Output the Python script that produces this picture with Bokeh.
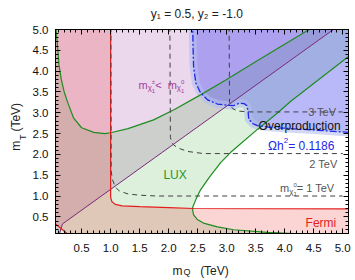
import math
from bokeh.plotting import figure
from bokeh.models import (Range1d, LinearAxis, SingleIntervalTicker, FixedTicker, Label,
                          CustomJSTickFormatter, PrintfTickFormatter)
from bokeh.embed import file_html
from bokeh.resources import INLINE

# ---------------- data (TeV) ----------------
X_RANGE = (0.05, 5.1)
Y_RANGE = (0.1, 5.0)

# LUX upper boundary (left -> right)
LUX_UP_X = [0.045, 0.06, 0.085, 0.11, 0.15, 0.2, 0.26, 0.36, 0.5, 0.71, 0.9, 1.0, 1.3, 1.74, 2.1, 2.55, 3.0, 3.47, 4.4, 5.02]
LUX_UP_Y = [5.5, 5.0, 4.6, 4.15, 3.8, 3.5, 3.25, 2.88, 2.64, 2.53, 2.5, 2.52, 2.62, 2.83, 3.08, 3.43, 3.8, 4.2, 4.98, 5.5]
# LUX right boundary (top -> bottom)
LUX_RT_X = [6.15, 5.1, 4.1, 3.87, 3.53, 3.07, 2.9, 2.7, 2.55, 2.47, 2.42, 2.41, 2.43, 2.5, 2.6, 2.84, 3.12, 3.7, 4.15, 4.6]
LUX_RT_Y = [5.5, 4.35, 3.27, 2.99, 2.6, 2.05, 1.81, 1.45, 1.15, 0.92, 0.75, 0.69, 0.55, 0.43, 0.35, 0.26, 0.19, 0.125, 0.1, 0.07]

# chargino lighter than neutralino: boundary line
CHI_X = [0.12, 0.17, 5.2]
CHI_Y = [0.1, 0.33, 5.36]

# Fermi boundary
FERMI_X = [1.0, 1.0, 1.02, 1.08, 1.2, 1.5, 2.0, 2.43, 5.2]
FERMI_Y = [5.5, 0.97, 0.87, 0.8, 0.765, 0.745, 0.72, 0.7, 0.69]
FERMI_CORNER_X = [0.0, 0.05, 0.25, 0.35]
FERMI_CORNER_Y = [0.38, 0.33, 0.1, 0.0]

# relic abundance Omega h^2 = 0.1186
OMEGA_X = [2.41, 2.42, 2.43, 2.47, 2.55, 2.67, 2.84, 3.0, 3.12, 3.22, 3.3, 3.35, 3.37, 3.38, 3.45, 3.53, 3.75, 3.98, 4.57, 5.2]
OMEGA_Y = [5.5, 4.6, 4.1, 3.71, 3.48, 3.31, 3.21, 3.18, 3.17, 3.23, 3.22, 3.17, 3.02, 2.85, 2.74, 2.69, 2.65, 2.63, 2.58, 2.52]

# neutralino mass contours
M1_X = [1.005, 1.01, 1.03, 1.08, 1.15, 1.3, 1.5, 1.8, 5.0]
M1_Y = [5.5, 1.6, 1.4, 1.22, 1.12, 1.05, 1.02, 1.0, 1.0]
M2_X = [2.02, 2.03, 2.07, 2.15, 2.33, 2.6, 5.0]
M2_Y = [5.5, 2.4, 2.25, 2.16, 2.07, 2.02, 2.02]
M3_X = [3.04, 3.05, 3.1, 3.2, 3.4, 5.0]
M3_Y = [5.5, 3.25, 3.1, 3.04, 3.02, 3.02]

TITLE = "y₁ = 0.5,  y₂ = -1.0"

# ---------------- figure ----------------
p = figure(width=355, height=280, output_backend="svg", toolbar_location=None,
           x_range=Range1d(*X_RANGE), y_range=Range1d(*Y_RANGE))
p.min_border_left = 55
p.min_border_right = 7
p.min_border_top = 29
p.min_border_bottom = 44
p.background_fill_color = "white"
p.border_fill_color = "white"
p.outline_line_color = "black"
p.xgrid.visible = False
p.ygrid.visible = False

FONT = "Liberation Sans"
TXT = "#222222"


def style_axis(ax, labels):
    ax.ticker = SingleIntervalTicker(interval=0.5, num_minor_ticks=5)
    ax.major_tick_in = 5
    ax.major_tick_out = 0
    ax.minor_tick_in = 3
    ax.minor_tick_out = 0
    ax.axis_line_color = "black"
    ax.major_tick_line_color = "black"
    ax.minor_tick_line_color = "black"
    if labels:
        ax.formatter = PrintfTickFormatter(format="%.1f")
        ax.major_label_text_font = FONT
        ax.major_label_text_font_size = "11.5px"
        ax.major_label_text_color = "#111111"
    else:
        ax.formatter = CustomJSTickFormatter(code="return ''")
        ax.major_label_text_font_size = "0px"
        ax.major_label_standoff = 0


style_axis(p.xaxis[0], True)
style_axis(p.yaxis[0], True)
p.xaxis[0].major_label_standoff = 10
p.yaxis[0].major_label_standoff = 7
top_ax = LinearAxis()
right_ax = LinearAxis()
style_axis(top_ax, False)
style_axis(right_ax, False)
p.add_layout(top_ax, "above")
p.add_layout(right_ax, "right")


def text_axis(ticks, labels, size, standoff, side, orientation="horizontal"):
    ax = LinearAxis(ticker=FixedTicker(ticks=ticks, minor_ticks=[]),
                    formatter=CustomJSTickFormatter(args=dict(labels=labels),
                                                    code="return labels[index];"))
    ax.axis_line_color = None
    ax.major_tick_line_color = None
    ax.minor_tick_line_color = None
    ax.major_tick_in = 0
    ax.major_tick_out = 0
    ax.major_label_standoff = standoff
    ax.major_label_text_font = FONT
    ax.major_label_text_font_size = size
    ax.major_label_text_color = TXT
    ax.major_label_orientation = orientation
    p.add_layout(ax, side)
    return ax


# title (top), axis titles built from pieces so that subscripts stay real text
text_axis([2.515], [TITLE], "12px", 9, "above")
text_axis([2.317], ["Q"], "9px", 12, "below")
text_axis([2.153, 2.79], ["m", "(TeV)"], "12px", -16, "below")
text_axis([2.413], ["T"], "9px", 1, "left", "vertical")
text_axis([2.207, 2.893], ["m", "(TeV)"], "12px", -8, "left", "vertical")

# ---------------- regions ----------------
chi_px = CHI_X + [5.2, 0.0, 0.0]
chi_py = CHI_Y + [5.5, 5.5, 0.1]
p.patch(chi_px, chi_py, fill_color="#962896", fill_alpha=0.18, line_color=None)

lux_px = [0.0] + LUX_UP_X + LUX_RT_X + [4.6, 0.0]
lux_py = [5.5] + LUX_UP_Y + LUX_RT_Y + [0.0, 0.0]
p.patch(lux_px, lux_py, fill_color="#28a028", fill_alpha=0.16, line_color=None)

fermi_px = FERMI_X + [5.2] + FERMI_CORNER_X[::-1] + [0.0]
fermi_py = FERMI_Y + [0.0] + FERMI_CORNER_Y[::-1] + [5.5]
p.patch(fermi_px, fermi_py, fill_color="#eb3c3c", fill_alpha=0.22, line_color=None)

omega_px = OMEGA_X + [5.2]
omega_py = OMEGA_Y + [5.5]
p.patch(omega_px, omega_py, fill_color="#3c3cf0", fill_alpha=0.36, line_color=None)

# uncertainty halo around relic line
p.line(OMEGA_X, OMEGA_Y, line_color="#b4bef0", line_alpha=0.6, line_width=8, line_join="round")

# ---------------- boundary lines ----------------
p.line(LUX_UP_X, LUX_UP_Y, line_color="#1e8c1e", line_width=1.2)
p.line(LUX_RT_X, LUX_RT_Y, line_color="#1e8c1e", line_width=1.2)
p.line(CHI_X, CHI_Y, line_color="#7a2a7a", line_width=1.0)
p.line(FERMI_X, FERMI_Y, line_color="#e41e1e", line_width=1.2)
p.line(FERMI_CORNER_X, FERMI_CORNER_Y, line_color="#e41e1e", line_width=1.2)
for cx, cy in ((M1_X, M1_Y), (M2_X, M2_Y), (M3_X, M3_Y)):
    p.line(cx, cy, line_color="#404040", line_width=1.0, line_dash="5 4")
p.line(OMEGA_X, OMEGA_Y, line_color="#1e28e6", line_width=1.3, line_dash="7 2 2 2")

# ---------------- in-plot text ----------------
W = {' ': 278, '(': 333, ')': 333, ',': 278, '-': 333, '.': 278, '<': 584, '=': 584,
     'F': 611, 'L': 556, 'O': 778, 'Q': 778, 'T': 611, 'U': 722, 'V': 667, 'X': 667,
     'c': 500, 'd': 556, 'e': 556, 'h': 556, 'i': 222, 'm': 833, 'n': 556, 'o': 556,
     'p': 556, 'r': 333, 't': 278, 'u': 556, 'v': 500, 'y': 500, '±': 584, 'χ': 520, 'Ω': 768}


def tw(s, size):
    return sum(W.get(ch, 556) for ch in s) * size / 1000.0


def rich(x, y, pieces, color, align="left"):
    # pieces: (text, font size px, shift down px, advances?)
    total = sum(tw(t, s) for t, s, d, adv in pieces if adv)
    pos = {"left": 0.0, "right": -total, "center": -total / 2}[align]
    for t, s, d, adv in pieces:
        p.add_layout(Label(x=x, y=y, x_offset=pos, y_offset=-d, text=t,
                           text_font=FONT, text_font_size=f"{s}px", text_color=color,
                           text_baseline="alphabetic", text_align="left"))
        if adv:
            pos += tw(t, s)


PURPLE_T = "#a0409c"
rich(1.48, 3.675, [("m", 11, 0, True), ("χ", 8, 3, True), ("±", 6, -3, False), ("1", 6, 6, True),
                   (" < ", 11, 0, True), ("m", 11, 0, True), ("χ", 8, 3, True),
                   ("0", 6, -3, False), ("1", 6, 6, True)], PURPLE_T)

rich(3.55, 2.68, [("Overproduction", 12, 0, True)], "#111111")
rich(4.93, 2.21, [("Ωh", 12, 0, True), ("2", 8, -5, True), (" = 0.1186", 12, 0, True)],
     "#1e28e6", align="right")
GRAY_T = "#555555"
rich(4.91, 3.03, [("3 TeV", 11, 0, True)], GRAY_T, align="right")
rich(4.93, 1.78, [("2 TeV", 11, 0, True)], GRAY_T, align="right")
rich(4.93, 1.19, [("m", 11, 0, True), ("χ", 8, 3, True), ("0", 6, -3, False), ("1", 6, 6, True),
                  (" = 1 TeV", 11, 0, True)], GRAY_T, align="right")
rich(1.91, 1.5, [("LUX", 12, 0, True)], "#2a962a")
rich(4.36, 0.36, [("Fermi", 12, 0, True)], "#e41e1e")

open("out.html", "w").write(file_html(p, INLINE))
